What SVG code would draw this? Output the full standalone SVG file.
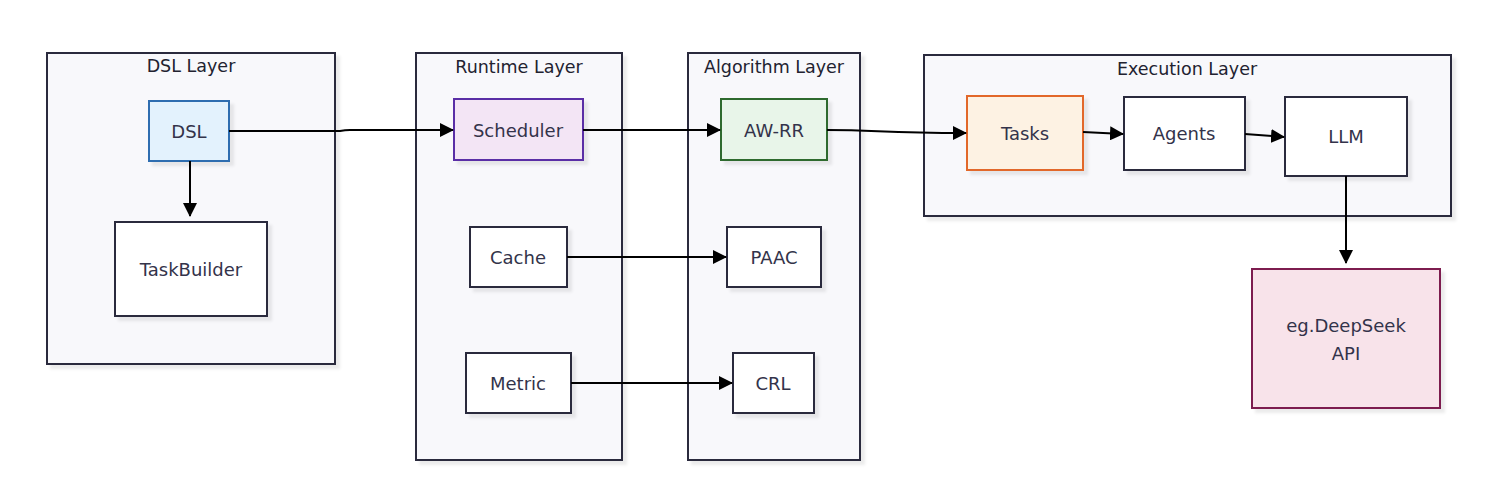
<svg xmlns="http://www.w3.org/2000/svg" width="1494" height="486" viewBox="0 0 1494 486">
<style>
.layer{fill:#f8f8fb;stroke:#2a2a3c;stroke-width:2}
.node{fill:#ffffff;stroke:#2a2a3c;stroke-width:2}
.t{font-family:"DejaVu Sans","Noto Sans",sans-serif;font-size:18px;fill:#33334a;text-anchor:middle;dominant-baseline:central}
.title{font-family:"DejaVu Sans","Noto Sans",sans-serif;font-size:17.5px;fill:#222230;text-anchor:middle;dominant-baseline:central}
.edge{fill:none;stroke:#000;stroke-width:2}
</style>
<defs>
<marker id="arr" viewBox="0 0 14 14" refX="13" refY="7" markerWidth="14" markerHeight="14" markerUnits="userSpaceOnUse" orient="auto">
<path d="M0,0 L14,7 L0,14 Z" fill="#000"/>
</marker>
<filter id="sh" x="-10%" y="-10%" width="130%" height="130%">
<feDropShadow dx="4" dy="4" stdDeviation="1.5" flood-color="#000" flood-opacity="0.08"/>
</filter>
</defs>
<rect width="1494" height="486" fill="#ffffff"/>
<g id="layer-dsl"><rect class="layer" x="47" y="53" width="288" height="311" filter="url(#sh)"/><text class="title" x="191" y="66">DSL Layer</text></g>
<g id="layer-runtime"><rect class="layer" x="416" y="53" width="206" height="407" filter="url(#sh)"/><text class="title" x="519" y="67">Runtime Layer</text></g>
<g id="layer-algorithm"><rect class="layer" x="688" y="53" width="172" height="407" filter="url(#sh)"/><text class="title" x="774" y="67">Algorithm Layer</text></g>
<g id="layer-execution"><rect class="layer" x="924" y="55" width="527" height="161" filter="url(#sh)"/><text class="title" x="1187" y="69">Execution Layer</text></g>

<g id="node-dsl"><rect x="149" y="101" width="80" height="60" fill="#e3f2fd" stroke="#2f6db0" stroke-width="2" filter="url(#sh)"/><text class="t" x="189" y="131">DSL</text></g>
<g id="node-taskbuilder"><rect class="node" x="115" y="222" width="152" height="94" filter="url(#sh)"/><text class="t" x="191" y="269">TaskBuilder</text></g>
<g id="node-scheduler"><rect x="454" y="99" width="129" height="61" fill="#f3e5f5" stroke="#5a2ea6" stroke-width="2" filter="url(#sh)"/><text class="t" x="518" y="130">Scheduler</text></g>
<g id="node-cache"><rect class="node" x="470" y="227" width="97" height="60" filter="url(#sh)"/><text class="t" x="518" y="257">Cache</text></g>
<g id="node-metric"><rect class="node" x="466" y="353" width="105" height="60" filter="url(#sh)"/><text class="t" x="518" y="383">Metric</text></g>
<g id="node-awrr"><rect x="721" y="99" width="106" height="61" fill="#e8f5e9" stroke="#2e6b2e" stroke-width="2" filter="url(#sh)"/><text class="t" x="774" y="130">AW-RR</text></g>
<g id="node-paac"><rect class="node" x="727" y="227" width="94" height="60" filter="url(#sh)"/><text class="t" x="774" y="257">PAAC</text></g>
<g id="node-crl"><rect class="node" x="733" y="353" width="81" height="60" filter="url(#sh)"/><text class="t" x="773" y="383">CRL</text></g>
<g id="node-tasks"><rect x="967" y="96" width="116" height="74" fill="#fdf2e3" stroke="#e2672b" stroke-width="2" filter="url(#sh)"/><text class="t" x="1025" y="133">Tasks</text></g>
<g id="node-agents"><rect class="node" x="1124" y="97" width="121" height="73" filter="url(#sh)"/><text class="t" x="1184" y="133">Agents</text></g>
<g id="node-llm"><rect class="node" x="1285" y="97" width="122" height="79" filter="url(#sh)"/><text class="t" x="1346" y="136">LLM</text></g>
<g id="node-deepseek"><rect x="1252" y="269" width="188" height="139" fill="#f8e3ea" stroke="#7d1f4f" stroke-width="2" filter="url(#sh)"/><text class="t" x="1346" y="325">eg.DeepSeek</text><text class="t" x="1346" y="353">API</text></g>

<g id="connectors">
<path class="edge" d="M229,131 L340,131 Q345,130 350,130 L453,130" marker-end="url(#arr)"/>
<path class="edge" d="M190,161 L190,216" marker-end="url(#arr)"/>
<path class="edge" d="M583,130 L720,130" marker-end="url(#arr)"/>
<path class="edge" d="M827,130 C880,130 880,133 966,133" marker-end="url(#arr)"/>
<path class="edge" d="M567,257 L726,257" marker-end="url(#arr)"/>
<path class="edge" d="M571,383 L732,383" marker-end="url(#arr)"/>
<path class="edge" d="M1083,132 L1123,134" marker-end="url(#arr)"/>
<path class="edge" d="M1245,134 L1284,137" marker-end="url(#arr)"/>
<path class="edge" d="M1346,176 L1346,263" marker-end="url(#arr)"/>
</g>
</svg>
